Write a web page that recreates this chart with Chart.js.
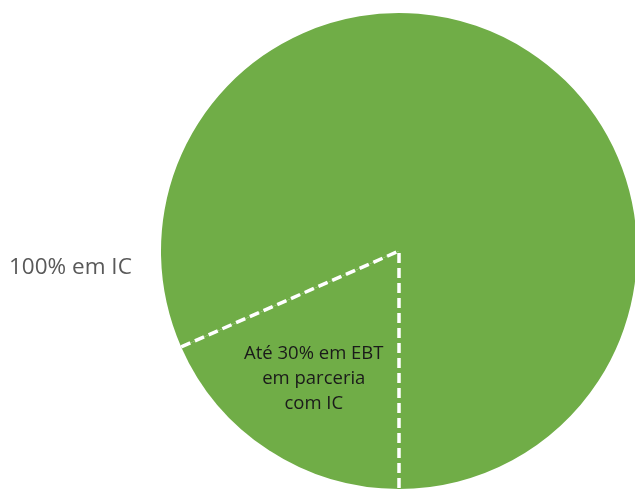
<!DOCTYPE html>
<html>
<head>
<meta charset="utf-8">
<script src="https://cdn.jsdelivr.net/npm/chart.js@4"></script>
<style>
  html, body { margin: 0; padding: 0; background: #fff; overflow: hidden; }
  .wrap { position: relative; width: 640px; height: 489px; }
</style>
</head>
<body>
<div class="wrap"><canvas id="chart"></canvas></div>
<script>
const labels = ['Até 30% em EBT em parceria com IC', '100% em IC'];
const shares = [18.4, 81.6];
const innerLines = ['Até 30% em EBT', 'em parceria', 'com IC'];
const outerText = '100% em IC';

const dashedEdges = {
  id: 'dashedEdges',
  afterDatasetsDraw(chart) {
    const arc = chart.getDatasetMeta(0).data[0];
    const { x, y, startAngle, endAngle, outerRadius } = arc.getProps(['x', 'y', 'startAngle', 'endAngle', 'outerRadius'], true);
    const ctx = chart.ctx;
    ctx.save();
    ctx.strokeStyle = '#ffffff';
    ctx.lineWidth = 3.5;
    ctx.setLineDash([10, 5]);
    ctx.beginPath();
    ctx.moveTo(x + Math.cos(endAngle) * outerRadius, y + Math.sin(endAngle) * outerRadius);
    ctx.lineTo(x, y);
    ctx.lineTo(x + Math.cos(startAngle) * outerRadius, y + Math.sin(startAngle) * outerRadius);
    ctx.stroke();
    ctx.restore();

    // labels
    const mid = (startAngle + endAngle) / 2;
    const r = outerRadius * 0.64;
    const cx = x + Math.cos(mid) * r - 2;
    const cy = y + Math.sin(mid) * r;
    ctx.save();
    ctx.font = '18.5px "Open Sans", sans-serif';
    ctx.fillStyle = '#1a1a1a';
    ctx.textAlign = 'center';
    ctx.textBaseline = 'alphabetic';
    innerLines.forEach((t, i) => ctx.fillText(t, cx, cy + 5 + (i - 1) * 25));
    ctx.font = '22.5px "Open Sans", sans-serif';
    ctx.fillStyle = '#595959';
    ctx.textAlign = 'left';
    ctx.fillText(outerText, 9, 274);
    ctx.restore();
  }
};

new Chart(document.getElementById('chart'), {
  type: 'pie',
  data: {
    labels: labels,
    datasets: [{
      data: shares,
      backgroundColor: ['#70ad47', '#70ad47'],
      borderWidth: 0
    }]
  },
  options: {
    responsive: true,
    maintainAspectRatio: false,
    animation: false,
    rotation: 180,
    layout: { padding: { left: 161, right: 3, top: 13, bottom: 0 } },
    plugins: { legend: { display: false }, tooltip: { enabled: false } }
  },
  plugins: [dashedEdges]
});
</script>
</body>
</html>
